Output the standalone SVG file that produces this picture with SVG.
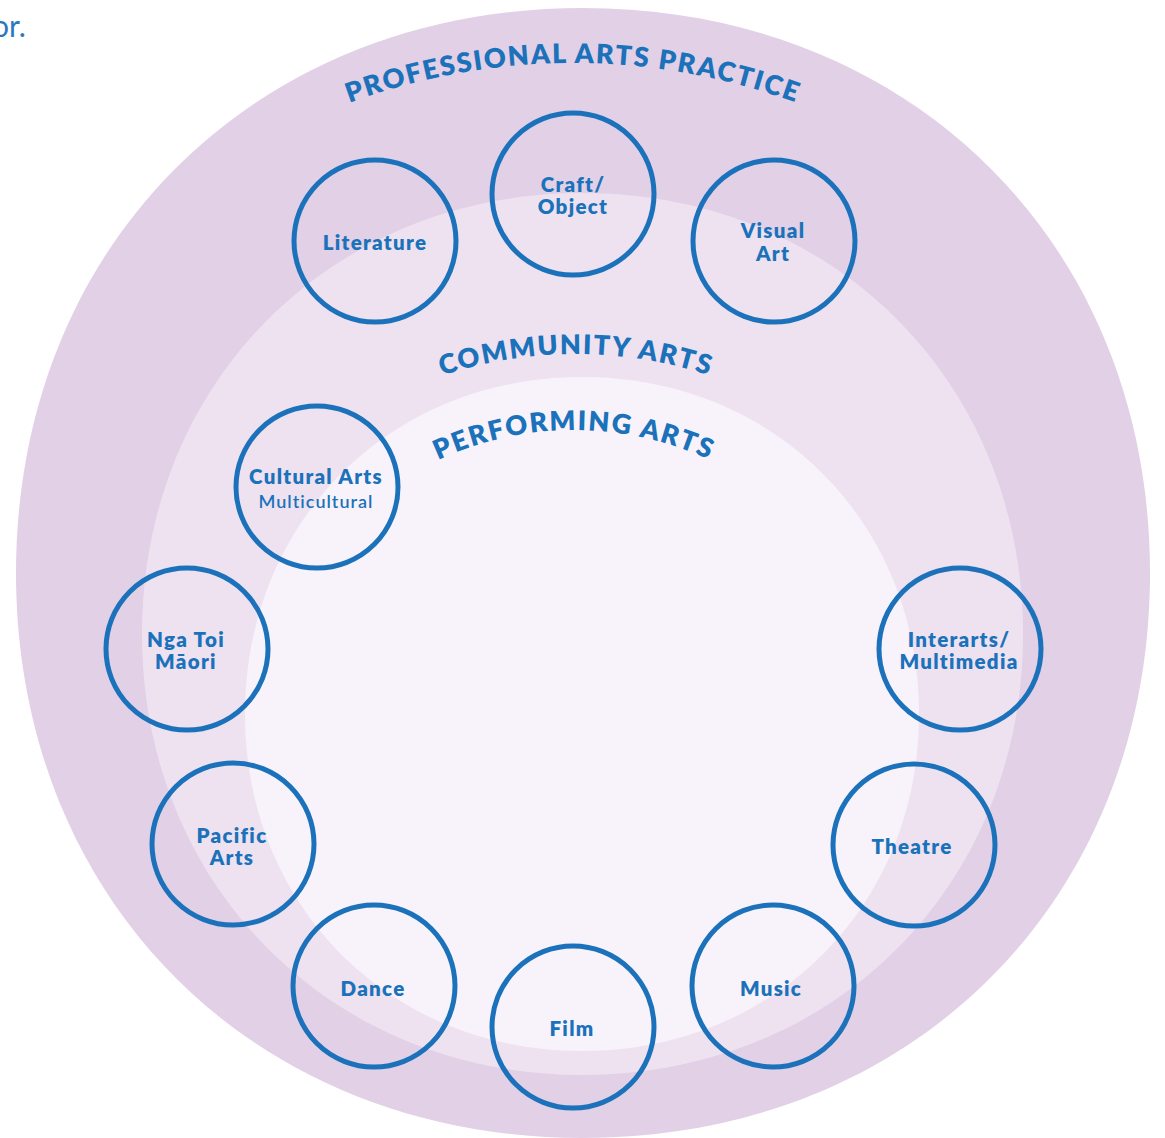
<svg xmlns="http://www.w3.org/2000/svg" width="1165" height="1138" viewBox="0 0 1165 1138">
<defs>
<style>
.zone1{fill:#E2D0E6}
.zone2{fill:#EEE2F1}
.zone3{fill:#F8F3FA}
.ring{fill:none;stroke:#1B72BA;stroke-width:5}
.lbl{font-family:Lato,"Open Sans","Liberation Sans",sans-serif;font-weight:800;font-size:20.5px;fill:#1B72BA;text-anchor:middle;letter-spacing:1.3px}
.sub{font-family:Lato,"Open Sans","Liberation Sans",sans-serif;font-weight:600;font-size:18px;fill:#1B72BA;text-anchor:middle;letter-spacing:1px}
.title{font-family:Lato,"Open Sans","Liberation Sans",sans-serif;font-weight:800;font-size:27px;fill:#1B72BA;letter-spacing:1.8px}
.intro{font-family:Lato,"Open Sans","Liberation Sans",sans-serif;font-weight:400;font-size:30px;fill:#2A78BE}
</style>
<path id="arcPro" d="M77.4,294.1 A647,647 0 0 1 1068.6,294.1"/>
<path id="arcCom" d="M249.7,506.2 A426,426 0 0 1 902.3,506.2"/>
<path id="arcPerf" d="M294.3,591.5 A323,323 0 0 1 853.7,591.5"/>
</defs>
<rect width="1165" height="1138" fill="#FFFFFF"/>
<text class="intro" x="-8" y="37">or.</text>
<g id="zones">
<path id="zone-professional" class="zone1" d="M583,8 C911.9,8 1150,245.3 1150,573 C1150,900.7 911.9,1138 583,1138 C254.1,1138 16,900.7 16,573 C16,245.3 254.1,8 583,8 Z"/>
<path id="zone-community" class="zone2" d="M582.5,193 C833.6,193 1023,382.6 1023,634 C1023,885.4 833.6,1075 582.5,1075 C331.4,1075 142,885.4 142,634 C142,382.6 331.4,193 582.5,193 Z"/>
<path id="zone-performing" class="zone3" d="M582,377 C774.1,377 919,521.9 919,714 C919,906.1 774.1,1051 582,1051 C389.9,1051 245,906.1 245,714 C245,521.9 389.9,377 582,377 Z"/>
</g>
<g id="zone-titles">
<text class="title"><textPath href="#arcPro" startOffset="50%" text-anchor="middle">PROFESSIONAL ARTS PRACTICE</textPath></text>
<text class="title"><textPath href="#arcCom" startOffset="50%" text-anchor="middle">COMMUNITY ARTS</textPath></text>
<text class="title"><textPath href="#arcPerf" startOffset="50%" text-anchor="middle">PERFORMING ARTS</textPath></text>
</g>
<g id="connectors"></g>
<g id="node-literature"><circle class="ring" cx="375" cy="241" r="81"/><text class="lbl" x="375" y="250">Literature</text></g>
<g id="node-craft"><circle class="ring" cx="573" cy="194" r="81"/><text class="lbl" x="573" y="192">Craft/</text><text class="lbl" x="573" y="214">Object</text></g>
<g id="node-visual"><circle class="ring" cx="774" cy="241" r="81"/><text class="lbl" x="773" y="238">Visual</text><text class="lbl" x="773" y="261">Art</text></g>
<g id="node-cultural"><circle class="ring" cx="317" cy="487" r="81"/><text class="lbl" x="316" y="484">Cultural Arts</text><text class="sub" x="316" y="508">Multicultural</text></g>
<g id="node-maori"><circle class="ring" cx="187" cy="649" r="81"/><text class="lbl" x="186" y="647">Nga Toi</text><text class="lbl" x="186" y="669">Māori</text></g>
<g id="node-interarts"><circle class="ring" cx="960" cy="649" r="81"/><text class="lbl" x="959" y="647">Interarts/</text><text class="lbl" x="959" y="669">Multimedia</text></g>
<g id="node-pacific"><circle class="ring" cx="233" cy="844" r="81"/><text class="lbl" x="232" y="843">Pacific</text><text class="lbl" x="232" y="865">Arts</text></g>
<g id="node-theatre"><circle class="ring" cx="914" cy="845" r="81"/><text class="lbl" x="912" y="854">Theatre</text></g>
<g id="node-dance"><circle class="ring" cx="374" cy="986" r="81"/><text class="lbl" x="373" y="996">Dance</text></g>
<g id="node-film"><circle class="ring" cx="573" cy="1027" r="81"/><text class="lbl" x="572" y="1036">Film</text></g>
<g id="node-music"><circle class="ring" cx="773" cy="986" r="81"/><text class="lbl" x="771" y="996">Music</text></g>
</svg>
